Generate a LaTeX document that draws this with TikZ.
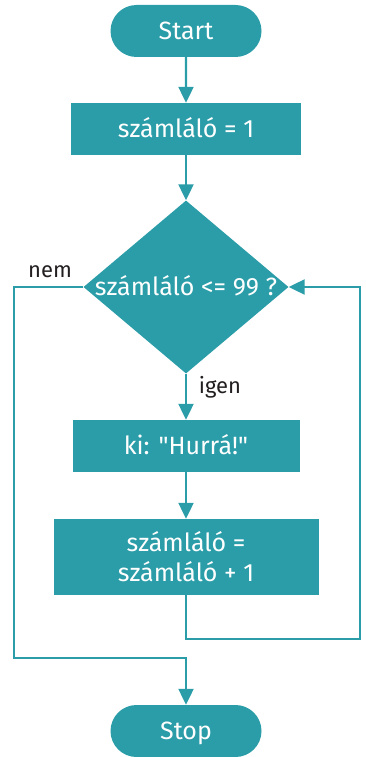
\documentclass[tikz,border=0pt]{standalone}
\usepackage{fontspec}
\setmainfont{Fira Sans}
\usetikzlibrary{shapes.geometric}
\usetikzlibrary{shapes.misc}
\usetikzlibrary{arrows.meta}
\definecolor{flowteal}{HTML}{2A9DA8}
\definecolor{labgray}{HTML}{231F20}
\tikzset{
  box/.style={fill=flowteal,text=white,inner sep=0pt,font=\fontsize{25}{30}\selectfont},
  one/.style={text height=17pt,text depth=0pt},
  term/.style={box,one,rounded rectangle,minimum width=151pt,minimum height=52pt},
  proc/.style={box,rectangle,minimum height=52pt},
  cond/.style={box,diamond,minimum width=205pt,minimum height=173pt},
  lab/.style={text=labgray,inner sep=0pt,anchor=base,font=\fontsize{22}{26}\selectfont},
  flow/.style={draw=flowteal,line width=2.2pt,-{Triangle[length=16pt,width=15pt]}}
}

\begin{document}
\begin{tikzpicture}[x=1pt,y=-1pt]
\useasboundingbox (0,0) rectangle (366,757);
% the boxes
\node[term] (start) at (186,31) {Start};
\node[proc,one,minimum width=230pt] (init) at (186,129) {számláló = 1};
\node[cond] (test) at (186,287) {};
\node[box,one,fill=none] at (test) {számláló <= 99 ?};
\node[proc,one,minimum width=227pt] (out) at (186,446) {ki: \textquotedbl Hurrá!\textquotedbl};
\node[proc,minimum width=265pt,minimum height=76pt,align=center] (inc) at (186,557) {számláló =\\számláló + 1};
\node[term] (stop) at (186,731) {Stop};
% corners of the loops
\coordinate (rb) at (360,639);
\coordinate (lb) at (14,658);
% the arrows
\draw[flow] (start) -- (init);
\draw[flow] (init) -- (test);
\draw[flow] (test) -- (out);
\draw[flow] (out) -- (inc);
\draw[flow] (inc.south) |- (rb) |- (test.east);
\draw[flow] (test.west) -| (lb) -| (stop.north);
% the labels
\node[lab] (no) at (50,277) {nem};
\node[lab] (yes) at (220,393) {igen};
\end{tikzpicture}
\end{document}
